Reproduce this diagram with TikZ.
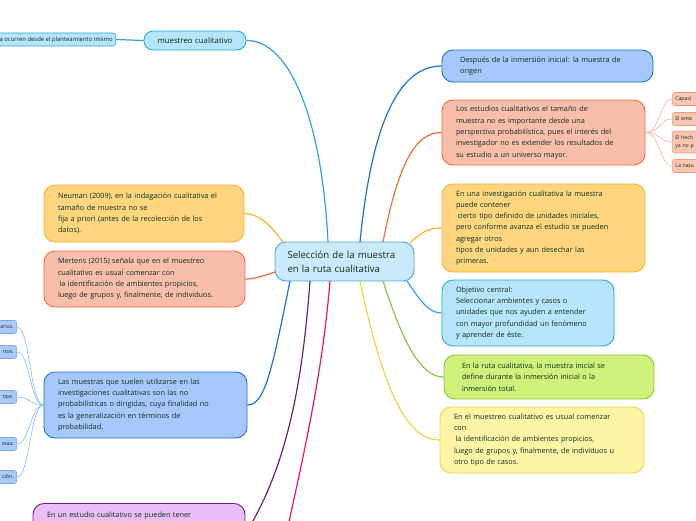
\documentclass[tikz,border=0pt]{standalone}
\usepackage{fontspec}
\setmainfont{Open Sans}
\usetikzlibrary{calc}
\definecolor{tc}{HTML}{0F2C1D}
\definecolor{lbF}{HTML}{B6E4FB}\definecolor{lbD}{HTML}{2AA6DF}
\definecolor{cF}{HTML}{C8EAFA}\definecolor{cD}{HTML}{4AA6DA}
\definecolor{bF}{HTML}{A7C8FC}\definecolor{bD}{HTML}{1F6FD6}
\definecolor{sF}{HTML}{F9BEA9}\definecolor{sD}{HTML}{F26B3A}
\definecolor{yF}{HTML}{FDD67F}\definecolor{yD}{HTML}{F7B52C}
\definecolor{gF}{HTML}{CEF17C}\definecolor{gD}{HTML}{8CC63E}
\definecolor{lyF}{HTML}{FDF5A6}\definecolor{lyD}{HTML}{F0D43A}
\definecolor{pF}{HTML}{E9BDF7}\definecolor{pD}{HTML}{6C2076}
\definecolor{pk}{HTML}{F0136E}
\definecolor{csF}{HTML}{F9C6B3}\definecolor{csD}{HTML}{F59A78}\definecolor{csL}{HTML}{F8B39A}
\definecolor{cbF}{HTML}{AACAFB}\definecolor{cbD}{HTML}{78A8EE}\definecolor{cbL}{HTML}{8FB8F2}
\tikzset{
  txt/.style={text=tc, font=\fontsize{7.3}{11.3}\selectfont},
  bx/.style 2 args={draw=#2, fill=#1, line width=0.9pt, rounded corners=11pt,
    inner xsep=14pt, inner ysep=0pt, align=left, txt},
  small/.style 2 args={draw=#2, fill=#1, line width=0.6pt, rounded corners=2.5pt,
    inner xsep=3pt, inner ysep=0pt, minimum height=13pt, text width=44pt,
    text=tc, font=\fontsize{5.2}{7.5}\selectfont},
  conn/.style={line width=1.2pt},
  thin/.style={line width=0.6pt},
}
\begin{document}
\begin{tikzpicture}[x=1pt,y=-1pt]
\useasboundingbox[fill=white] (0,0) rectangle (696,520);

% central
\node[bx={cF}{cD}, minimum width=139pt, minimum height=39pt, text width=114pt,
  inner xsep=12.5pt, font=\fontsize{9.6}{14}\selectfont] (c) at (344.5,261.5)
  {Selección de la muestra\\en la ruta cualitativa};

% muestreo cualitativo
\node[bx={lbF}{lbD}, minimum width=102pt, minimum height=19pt, text width=80pt,
  inner xsep=11pt, align=center, rounded corners=9pt, font=\fontsize{7.8}{10}\selectfont] (mq) at (195,40.5)
  {muestreo cualitativo};
\node[draw=lbD, fill=lbF, line width=0.6pt, rounded corners=2.5pt, inner xsep=3pt, inner ysep=0pt,
  minimum height=13pt, text=tc, font=\fontsize{5.9}{7}\selectfont, anchor=east] (ml) at (116,39.5)
  {a ocurren desde el planteamiento mismo};

% right side
\node[bx={bF}{bD}, minimum width=211pt, minimum height=32pt, text width=175pt, inner xsep=18pt] (des) at (547.5,66)
  {Después de la inmersión inicial: la muestra de\\origen};
\node[bx={sF}{sD}, minimum width=203pt, minimum height=65pt, text width=175pt] (sr) at (543.5,132.5)
  {Los estudios cualitativos el tamaño de\\muestra no es importante desde una\\perspectiva probabilística, pues el interés del\\investigador no es extender los resultados de\\su estudio a un universo mayor.};
\node[bx={yF}{yD}, minimum width=203pt, minimum height=88pt, text width=175pt] (yr) at (543.5,228)
  {En una investigación cualitativa la muestra\\puede contener\\\hspace*{1.5pt}cierto tipo definido de unidades iniciales,\\pero conforme avanza el estudio se pueden\\agregar otros\\tipos de unidades y aun desechar las\\primeras.};
\node[bx={lbF}{lbD}, minimum width=172pt, minimum height=66pt, text width=144pt] (ob) at (528,313)
  {Objetivo central:\\Seleccionar ambientes y casos o\\unidades que nos ayuden a entender\\con mayor profundidad un fenómeno\\y aprender de éste.};
\node[bx={gF}{gD}, minimum width=210pt, minimum height=44pt, text width=174pt, inner xsep=18pt] (gr) at (549,377)
  {En la ruta cualitativa, la muestra inicial se\\define durante la inmersión inicial o la\\inmersión total.};
\node[bx={lyF}{lyD}, minimum width=204pt, minimum height=66pt, text width=176pt] (ly) at (542,440)
  {En el muestreo cualitativo es usual comenzar\\con\\\hspace*{1.5pt}la identificación de ambientes propicios,\\luego de grupos y, finalmente, de individuos u\\otro tipo de casos.};

% left side
\node[bx={yF}{yD}, minimum width=200pt, minimum height=57pt, text width=172pt] (neu) at (144,213.5)
  {Neuman (2009), en la indagación cualitativa el\\tamaño de muestra no se\\fija a priori (antes de la recolección de los\\datos).};
\node[bx={sF}{sD}, minimum width=201pt, minimum height=56pt, text width=173pt] (mer) at (144.5,279)
  {Mertens (2015) señala que en el muestreo\\cualitativo es usual comenzar con\\\hspace*{1.5pt}la identificación de ambientes propicios,\\luego de grupos y, finalmente, de individuos.};
\node[bx={bF}{bD}, minimum width=203pt, minimum height=66pt, text width=175pt] (las) at (145.5,405)
  {Las muestras que suelen utilizarse en las\\investigaciones cualitativas son las no\\probabilísticas o dirigidas, cuya finalidad no\\es la generalización en términos de\\probabilidad.};
\node[bx={pF}{pD}, minimum width=212pt, text width=184pt, text height=14.5pt, text depth=46pt, anchor=north] (pu) at (139,503)
  {En un estudio cualitativo se pueden tener};
\coordinate (pkend) at (284,545);

% left small children
\foreach \n/\yy/\t in {l1/327/arios., l2/352/rtos., l3/397/tipo., l4/444/otas:, l5/477/ción.}{
  \node[small={cbF}{cbD}, anchor=east, align=right] (\n) at (17,\yy) {\t};
}
% right small children
\node[small={csF}{csD}, anchor=west, align=left] (r1) at (672,99) {Capaci};
\node[small={csF}{csD}, anchor=west, align=left] (r2) at (672,119) {El ente};
\node[small={csF}{csD}, anchor=west, align=left, minimum height=22pt] (r3) at (672,142) {El hech\\ya no p};
\node[small={csF}{csD}, anchor=west, align=left] (r4) at (672,166) {La natu};

% connectors
\draw[conn, lbD] (ml.east) -- (mq.west);
\draw[conn, lbD] (mq.east) .. controls (290,40) and (322,120) .. (328,242);
\draw[conn, bD] (360,242) .. controls (372,120) and (400,66) .. (des.west);
\draw[conn, sD] (383,242) .. controls (398,165) and (415,132) .. (sr.west);
\draw[conn, yD] (410,243) .. controls (424,230) and (430,228) .. (yr.west);
\draw[conn, lbD] (407,281) .. controls (420,300) and (428,313) .. (ob.west);
\draw[conn, gD] (383,281) .. controls (402,340) and (420,377) .. (gr.west);
\draw[conn, lyD] (360,281) .. controls (385,400) and (410,440) .. (ly.west);
\draw[conn, yD] (283,242) .. controls (270,225) and (260,214) .. (neu.east);
\draw[conn, sD] (275,272) .. controls (262,276) and (255,279) .. (mer.east);
\draw[conn, bD] (290,281) .. controls (272,370) and (265,405) .. (las.east);
\draw[conn, pD] (310,281) .. controls (302,390) and (285,470) .. (pu.east);
\draw[conn, pk] (330,281) .. controls (322,380) and (300,470) .. (pkend);

\foreach \n in {l1,l2,l3,l4,l5}{
  \draw[thin, cbL] (las.west) .. controls (30,405) and ($(\n.east)+(13,0)$) .. (\n.east);
}
\foreach \n in {r1,r2,r3,r4}{
  \draw[thin, csL] (sr.east) .. controls (660,132.5) and ($(\n.west)+(-12,0)$) .. (\n.west);
}
\end{tikzpicture}
\end{document}
